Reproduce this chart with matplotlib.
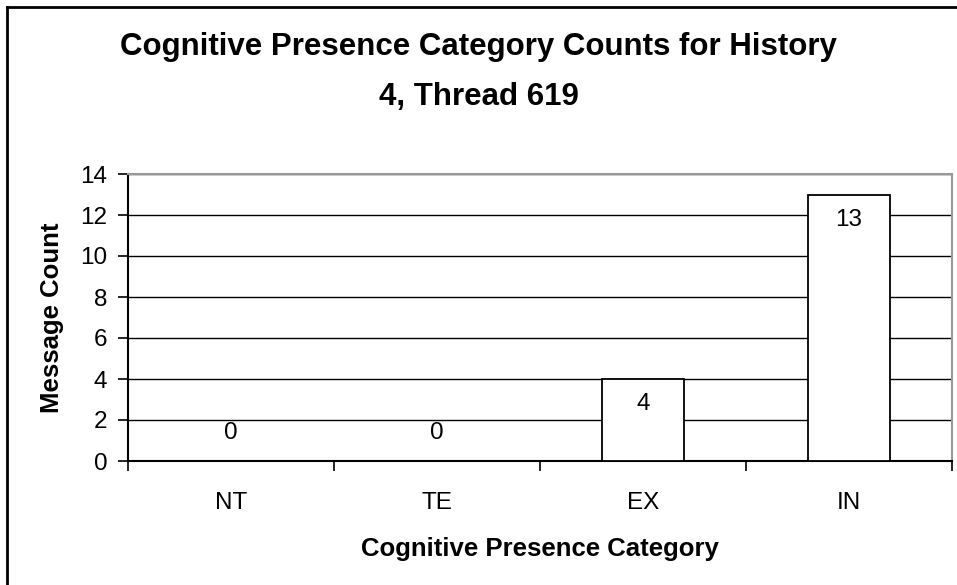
import matplotlib
matplotlib.use("Agg")
import matplotlib.pyplot as plt
from matplotlib.lines import Line2D

categories = ["NT", "TE", "EX", "IN"]
counts = [0, 0, 4, 13]
yticks = [0, 2, 4, 6, 8, 10, 12, 14]
title_lines = ["Cognitive Presence Category Counts for History", "4, Thread 619"]
xlabel = "Cognitive Presence Category"
ylabel = "Message Count"

plt.rcParams['font.family'] = ['Liberation Sans', 'DejaVu Sans']

W, H = 957, 585
fig = plt.figure(figsize=(W / 100, H / 100), dpi=100)
fig.patch.set_facecolor('white')

# outer chart border (only top and left visible)
fig.add_artist(Line2D([7 / W, 7 / W], [0, 1 - 7 / H], transform=fig.transFigure, color='black', lw=2))
fig.add_artist(Line2D([7 / W, 1], [1 - 7 / H, 1 - 7 / H], transform=fig.transFigure, color='black', lw=2))

left, right, top, bottom = 128, 952, 174, 461
ax = fig.add_axes([left / W, 1 - bottom / H, (right - left) / W, (bottom - top) / H])

x = list(range(len(categories)))
ax.bar(x, counts, width=0.4, color='white', edgecolor='black', linewidth=1.3, zorder=3)

fs = 17.5
ax.set_xlim(-0.5, len(categories) - 0.5)
ax.set_ylim(0, 14)
ax.set_yticks(yticks)
ax.set_yticklabels([str(t) for t in yticks], fontsize=fs)
ax.yaxis.grid(True, color='black', linewidth=1.0, zorder=0)
ax.set_axisbelow(True)

ax.set_xticks([i - 0.5 for i in range(len(categories) + 1)])
ax.set_xticklabels([])
ax.set_xticks(x, minor=True)
ax.set_xticklabels(categories, minor=True, fontsize=fs)
ax.tick_params(axis='x', which='minor', length=0, pad=22)
ax.tick_params(axis='x', which='major', length=7, width=1.2, direction='out')
ax.tick_params(axis='y', length=7, width=1.2, direction='out', pad=8)

for s in ['top', 'right']:
    ax.spines[s].set_color('#999999')
    ax.spines[s].set_linewidth(1.5)
for s in ['left', 'bottom']:
    ax.spines[s].set_color('black')
    ax.spines[s].set_linewidth(1.5)

for xi, v in zip(x, counts):
    off = -25 if v > 0 else 28
    ax.annotate(str(v), (xi, v), xytext=(0, off * 0.72), textcoords='offset points',
                ha='center', va='center', fontsize=fs, zorder=5)

fig.text(0.5, 1 - 47 / H, title_lines[0], ha='center', va='center', fontsize=22.5, fontweight='bold')
fig.text(0.5, 1 - 97 / H, title_lines[1], ha='center', va='center', fontsize=22.5, fontweight='bold')
fig.text((left + right) / 2 / W, 1 - 549 / H, xlabel, ha='center', va='center', fontsize=18.5, fontweight='bold')
fig.text(52 / W, 1 - 318 / H, ylabel, ha='center', va='center', fontsize=18.5,
         fontweight='bold', rotation=90)

fig.savefig("out.png", dpi=100, facecolor='white')
